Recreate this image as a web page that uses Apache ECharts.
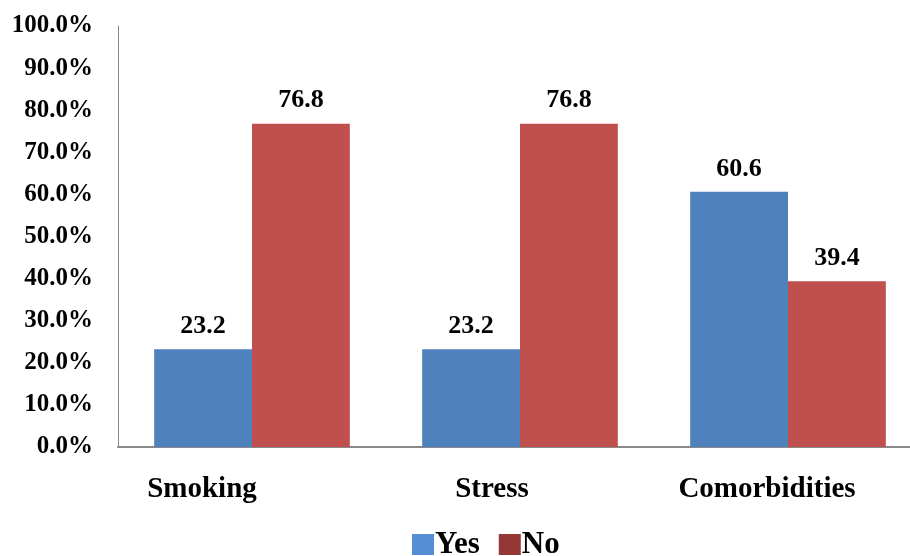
<!DOCTYPE html>
<html>
<head>
<meta charset="utf-8">
<script src="https://cdn.jsdelivr.net/npm/echarts@6/dist/echarts.min.js"></script>
<style>html,body{margin:0;padding:0;background:#fff;}#c{width:910px;height:556px;}</style>
</head>
<body>
<div id="c"></div>
<script>
const categories = ['Smoking', 'Stress', 'Comorbidities'];
const yesValues = [23.2, 23.2, 60.6];
const noValues = [76.8, 76.8, 39.4];
const seriesNames = ['Yes', 'No'];

const FONT = '"Liberation Serif", "Times New Roman", serif';
const chart = echarts.init(document.getElementById('c'), null, {renderer: 'canvas'});
const labelStyle = {
  show: true, position: 'top', distance: 10,
  color: '#000', fontFamily: FONT, fontWeight: 'bold', fontSize: 26,
  formatter: p => p.value.toFixed(1)
};
const catRich = {
  c0: {padding: [0, 100, 0, 0]},
  c1: {padding: [0, 56, 0, 0]},
  c2: {padding: [0, 42, 0, 0]}
};
chart.setOption({
  animation: false,
  backgroundColor: '#fff',
  grid: {left: 118, width: 804, top: 26, bottom: 109, containLabel: false, outerBoundsMode: 'none'},
  legend: {
    bottom: -9, left: 407,
    itemWidth: 22, itemHeight: 21, itemGap: 19,
    textStyle: {fontFamily: FONT, fontWeight: 'bold', fontSize: 31, color: '#000', padding: [0,0,0,-4]},
    data: [
      {name: seriesNames[0], icon: 'rect', itemStyle: {color: '#558ED5'}},
      {name: seriesNames[1], icon: 'rect', itemStyle: {color: '#953735'}}
    ]
  },
  xAxis: {
    type: 'category', data: categories,
    axisLine: {show: true, lineStyle: {color: '#898989', width: 2}},
    axisTick: {show: false},
    axisLabel: {margin: 28, color: '#000', fontFamily: FONT, fontWeight: 'bold', fontSize: 29, interval: 0,
      formatter: (v, i) => '{c' + i + '|' + v + '}',
      rich: Object.fromEntries(Object.entries(catRich).map(([k, s]) =>
        [k, Object.assign({fontFamily: FONT, fontWeight: 'bold', fontSize: 29, color: '#000'}, s)]))
    }
  },
  yAxis: {
    type: 'value', min: 0, max: 100, interval: 10,
    axisLine: {show: true, lineStyle: {color: '#898989', width: 1}},
    axisTick: {show: false},
    splitLine: {show: false},
    axisLabel: {margin: 25, color: '#000', fontFamily: FONT, fontWeight: 'bold', fontSize: 25,
      formatter: v => v.toFixed(1) + '%'}
  },
  series: [
    {name: seriesNames[0], type: 'bar', data: yesValues, barGap: '0%', barCategoryGap: '27%',
      itemStyle: {color: '#4F81BD'}, label: labelStyle},
    {name: seriesNames[1], type: 'bar', data: noValues, barGap: '0%', barCategoryGap: '27%',
      itemStyle: {color: '#C0504D'}, label: labelStyle}
  ]
});
</script>
</body>
</html>
